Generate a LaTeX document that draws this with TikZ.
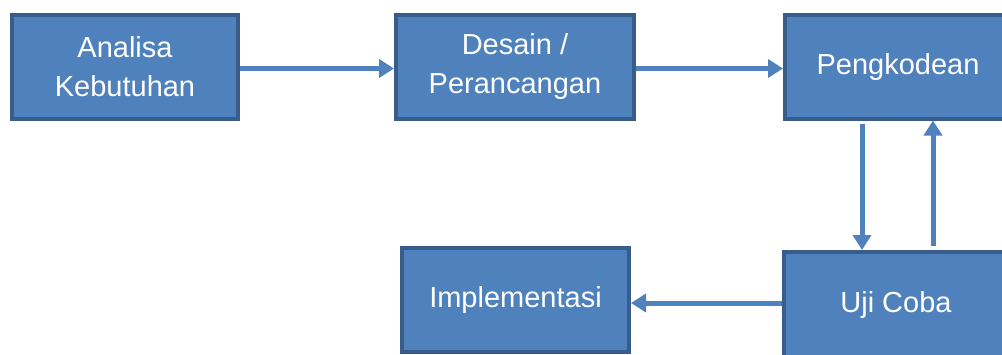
\documentclass[tikz,border=0pt]{standalone}
\usepackage{fontspec}
\setmainfont{Liberation Sans}
\usetikzlibrary{arrows.meta,calc}
\definecolor{boxfill}{RGB}{79,129,189}
\definecolor{boxline}{RGB}{56,93,138}
\tikzset{
  tahap/.style={draw=boxline,fill=boxfill,line width=4pt,text=white,align=center,
    minimum height=104pt,inner sep=0pt,font=\fontsize{29}{39}\selectfont},
  alur/.style={draw=boxfill,line width=5pt,-{Triangle[width=18pt,length=15pt]}}
}
\begin{document}
\begin{tikzpicture}[x=1pt,y=-1pt]
  \useasboundingbox (0,0) rectangle (1002,354);

  % tahap-tahap
  \node[tahap,minimum width=226pt] (analisa) at (125,66.5) {Analisa\\Kebutuhan};
  \node[tahap,minimum width=238pt] (desain) at (515,66.5) {Desain /\\Perancangan};
  \node[tahap,minimum width=226pt] (kode) at (898,66.5) {Pengkodean};
  \node[tahap,minimum width=227pt] (impl) at (515.5,300) {Implementasi};
  \node[tahap,minimum width=224pt,minimum height=106pt] (uji) at (896,305) {Uji Coba};

  % panah
  \draw[alur] ($(analisa.east)+(0,2)$) -- ($(desain.west)+(0,2)$);
  \draw[alur] ($(desain.east)+(0,2)$) -- ($(kode.west)+(0,2)$);
  \draw[alur,shorten <=3pt] ([xshift=-36pt]kode.south) -- ([xshift=-36pt]kode.south |- uji.north);
  \draw[alur,shorten <=4pt] ([xshift=35pt]kode.south |- uji.north) -- ([xshift=35pt]kode.south);
  \draw[alur] ($(uji.west)+(0,-2)$) -- ($(uji.west -| impl.east)+(0,-2)$);
\end{tikzpicture}
\end{document}
